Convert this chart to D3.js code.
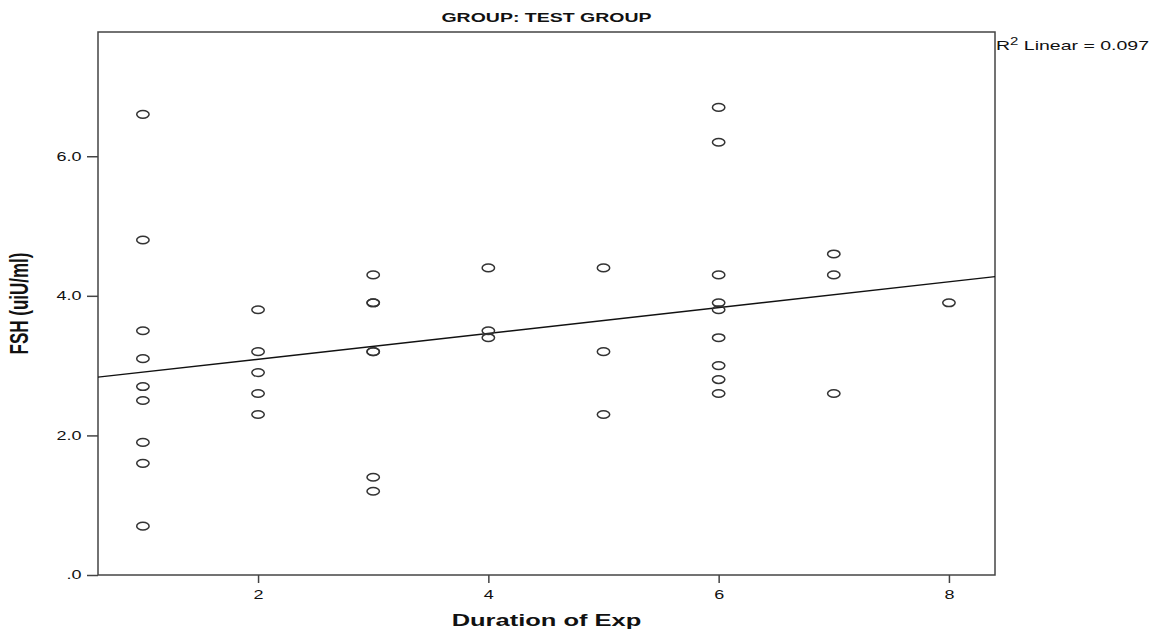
<!DOCTYPE html>
<html lang="en">
  <head>
    <meta charset="UTF-8" />
    <title>FSH vs Duration of Exp</title>
    <script src="https://cdn.jsdelivr.net/npm/d3@7"></script>
    <style>
      body { margin: 0; background: #fff; }
      text { font-family: "Liberation Sans", Arial, sans-serif; fill: #111; }
    </style>
  </head>
  <body>
    <svg width="1156" height="638"></svg>
  </body>

  <script>
    // data
    var duration = [1, 1, 1, 1, 1, 1, 1, 1, 1,
                    2, 2, 2, 2, 2,
                    3, 3, 3, 3, 3, 3, 3,
                    4, 4, 4,
                    5, 5, 5,
                    6, 6, 6, 6, 6, 6, 6, 6, 6,
                    7, 7, 7,
                    8];
    var fsh = [6.6, 4.8, 3.5, 3.1, 2.7, 2.5, 1.9, 1.6, 0.7,
               3.8, 3.2, 2.9, 2.6, 2.3,
               4.3, 3.9, 3.9, 3.2, 3.2, 1.4, 1.2,
               4.4, 3.5, 3.4,
               4.4, 3.2, 2.3,
               6.7, 6.2, 4.3, 3.9, 3.8, 3.4, 3.0, 2.8, 2.6,
               4.6, 4.3, 2.6,
               3.9];
    var xTicks = [2, 4, 6, 8];
    var yTicks = [0, 2, 4, 6];
    var xDomain = [0.61, 8.4];
    var yDomain = [0, 7.78];
    var title = 'GROUP: TEST GROUP';
    var xTitle = 'Duration of Exp';
    var yTitle = 'FSH (uiU/ml)';
    var r2Text = '0.097';

    var sx = 1.5; // picture is stretched sideways
    var margin = { top: 32, right: 161, bottom: 63, left: 98 };

    var svg = d3.select('svg');
    var width = +svg.attr('width') - margin.left - margin.right;
    var height = +svg.attr('height') - margin.top - margin.bottom;
    var g = svg.append('g').attr('transform', 'translate(' + margin.left + ',' + margin.top + ')');

    var x = d3.scaleLinear().domain(xDomain).range([0, width]);
    var y = d3.scaleLinear().domain(yDomain).range([height, 0]);

    // y axis
    var ay = g.append('g').call(
      d3.axisLeft(y).tickValues(yTicks).tickSize(11).tickSizeOuter(0)
        .tickFormat(function (d) { return d === 0 ? '.0' : d.toFixed(1); })
    );
    ay.select('.domain').remove();
    ay.selectAll('line').attr('stroke', '#444').attr('stroke-width', 1.5);
    ay.selectAll('text')
      .attr('x', -11)
      .attr('transform', 'scale(' + sx + ',1)')
      .style('font-size', '12px')
      .attr('fill', '#222');

    // x axis
    var ax = g.append('g').attr('transform', 'translate(0,' + height + ')').call(
      d3.axisBottom(x).tickValues(xTicks).tickSize(8).tickSizeOuter(0).tickPadding(7)
        .tickFormat(d3.format('d'))
    );
    ax.select('.domain').remove();
    ax.selectAll('line').attr('stroke', '#444').attr('stroke-width', 1.5);
    ax.selectAll('text')
      .attr('transform', 'scale(' + sx + ',1)')
      .style('font-size', '12px')
      .attr('fill', '#222');

    // frame
    g.append('rect')
      .attr('width', width)
      .attr('height', height)
      .attr('fill', 'none')
      .attr('stroke', '#444')
      .attr('stroke-width', 1.5);

    // fit line (least squares)
    var mx = d3.mean(duration), my = d3.mean(fsh);
    var sxy = d3.sum(duration, function (d, i) { return (d - mx) * (fsh[i] - my); });
    var sxx = d3.sum(duration, function (d) { return (d - mx) * (d - mx); });
    var slope = sxy / sxx;
    var icpt = my - slope * mx;
    g.append('path')
      .datum(xDomain)
      .attr('fill', 'none')
      .attr('stroke', '#111')
      .attr('stroke-width', 1.4)
      .attr('d', d3.line().x(function (d) { return x(d); }).y(function (d) { return y(icpt + slope * d); }));

    // points
    g.selectAll('ellipse')
      .data(fsh)
      .enter()
      .append('ellipse')
      .attr('cx', function (d, i) { return x(duration[i]); })
      .attr('cy', function (d) { return y(d); })
      .attr('rx', 6.2)
      .attr('ry', 3.8)
      .attr('fill', 'none')
      .attr('stroke', '#333')
      .attr('stroke-width', 1.5);

    // texts
    svg.append('g')
      .attr('transform', 'translate(' + (margin.left + width / 2) + ',22) scale(' + sx + ',1)')
      .append('text')
      .attr('text-anchor', 'middle')
      .style('font-size', '13px')
      .style('font-weight', 'bold')
      .text(title);

    svg.append('g')
      .attr('transform', 'translate(' + (margin.left + width / 2) + ',626) scale(' + sx + ',1)')
      .append('text')
      .attr('text-anchor', 'middle')
      .style('font-size', '17px')
      .style('font-weight', 'bold')
      .text(xTitle);

    svg.append('g')
      .attr('transform', 'translate(28,' + (margin.top + height / 2) + ') scale(' + sx + ',1) rotate(-90)')
      .append('text')
      .attr('text-anchor', 'middle')
      .style('font-size', '17px')
      .style('font-weight', 'bold')
      .text(yTitle);

    var r2 = svg.append('g')
      .attr('transform', 'translate(' + (margin.left + width + 1) + ',50) scale(' + sx + ',1)')
      .append('text')
      .style('font-size', '13px');
    r2.append('tspan').text('R');
    r2.append('tspan').attr('dy', -5).style('font-size', '10px').text('2');
    r2.append('tspan').attr('dy', 5).text(' Linear = ' + r2Text);
  </script>
</html>
